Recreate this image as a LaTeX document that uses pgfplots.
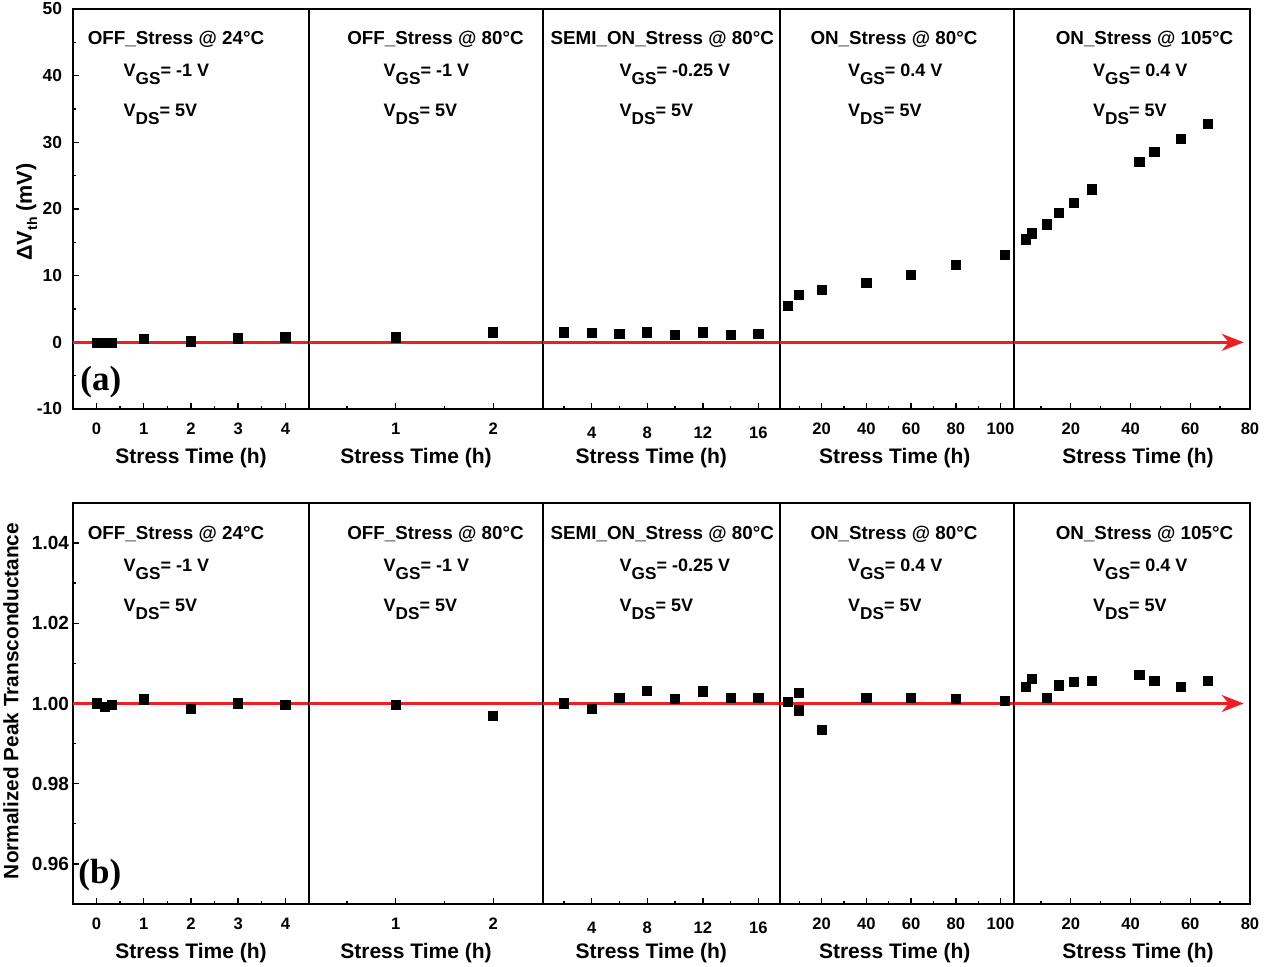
\documentclass[border=0pt]{standalone}
\usepackage{fontspec}
\setmainfont{Liberation Sans}
\newfontfamily\serifbf{Liberation Serif}
\usepackage{pgfplots}
\pgfplotsset{compat=1.18}
\usetikzlibrary{arrows.meta}
\definecolor{refred}{RGB}{238,30,36}

\newcommand\sub[1]{\raisebox{-0.75ex}{\fontsize{8.6}{9}\selectfont #1}}

\tikzset{zeroline/.style={refred, line width=1.25pt}}
\pgfplotsset{
  panel/.style={
    scale only axis,
    anchor=south west,
    axis line style={line width=0.8pt},
    every tick/.style={black, line width=0.7pt},
    tick align=inside,
    xtick pos=bottom, ytick pos=left,
    major tick length=3pt, minor tick length=1.6pt,
    xticklabel style={font=\fontsize{8.3}{9}\selectfont\bfseries, yshift=-3.4pt},
    ytick=\empty,
  },
  toprow/.style={panel, height=200pt, ymin=-10, ymax=50},
  botrow/.style={panel, height=200.5pt, ymin=0.95, ymax=1.05},
  pts/.style={only marks, mark=square*, mark size=2.3pt, black},
}

\begin{document}
\begin{tikzpicture}

% ---------------- (a) threshold-voltage shift ----------------
\begin{axis}[toprow, at={(36.5pt,279pt)}, width=118pt,
  xmin=-0.5, xmax=4.5, xtick={0,1,2,3,4}, xticklabels={0,1,2,3,4},
  minor xtick={0.5,1.5,2.5,3.5},
  ytick={-10,0,10,20,30,40,50}, yticklabels={-10,0,10,20,30,40,50},
  minor ytick={-5,5,15,25,35,45},
  yticklabel style={font=\fontsize{8.7}{10}\selectfont\bfseries, xshift=-2pt}]
  \draw[zeroline] (axis cs:-0.5,0) -- (axis cs:4.5,0);
  \addplot[pts] coordinates {(0,-0.05) (0.17,-0.05) (0.33,-0.05) (1,0.5) (2,0.15) (3,0.6) (4,0.75)};
\end{axis}

\begin{axis}[toprow, at={(154.5pt,279pt)}, width=117pt,
  xmin=0.11, xmax=2.51, xtick={1,2}, xticklabels={1,2}, minor xtick={0.5,1.5}]
  \draw[zeroline] (axis cs:0.11,0) -- (axis cs:2.51,0);
  \addplot[pts] coordinates {(1,0.75) (2,1.5)};
\end{axis}

\begin{axis}[toprow, at={(271.5pt,279pt)}, width=118.5pt,
  xmin=0.5, xmax=17.55, xtick={4,8,12,16}, xticklabels={4,8,12,16}, minor xtick={2,6,10,14},
  xticklabel style={yshift=-2pt}]
  \draw[zeroline] (axis cs:0.5,0) -- (axis cs:17.55,0);
  \addplot[pts] coordinates {(2,1.5) (4,1.4) (6,1.25) (8,1.5) (10,1.15) (12,1.5) (14,1.1) (16,1.25)};
\end{axis}

\begin{axis}[toprow, at={(390pt,279pt)}, width=117pt,
  xmin=1.4, xmax=106, xtick={20,40,60,80,100}, xticklabels={20,40,60,80,100},
  minor xtick={10,30,50,70,90}]
  \draw[zeroline] (axis cs:1.4,0) -- (axis cs:106,0);
  \addplot[pts] coordinates {(5,5.47) (10,7.12) (20,7.87) (40,8.92) (60,10.17) (80,11.56) (102,13.16)};
\end{axis}

\begin{axis}[toprow, at={(507pt,279pt)}, width=118pt,
  xmin=1, xmax=80, xtick={20,40,60,80}, xticklabels={20,40,60,80}, minor xtick={10,30,50,70}]
  \draw[zeroline, -{Stealth[length=11pt, width=8.5pt, inset=3.5pt]}] (axis cs:1,0) -- (axis cs:77.9,0);
  \addplot[pts] coordinates {(5,15.45) (7,16.35) (12,17.7) (16,19.4) (21,20.9) (27,22.93)
    (43,27.07) (48,28.6) (57,30.5) (66,32.8)};
\end{axis}

% ---------------- (b) normalized peak transconductance ----------------
\begin{axis}[botrow, at={(36.5pt,31.5pt)}, width=118pt,
  xmin=-0.5, xmax=4.5, xtick={0,1,2,3,4}, xticklabels={0,1,2,3,4},
  minor xtick={0.5,1.5,2.5,3.5},
  ytick={0.96,0.98,1.00,1.02,1.04}, yticklabels={0.96,0.98,1.00,1.02,1.04},
  minor ytick={0.97,0.99,1.01,1.03},
  yticklabel style={font=\fontsize{9.5}{11}\selectfont\bfseries, xshift=1.5pt}]
  \draw[zeroline] (axis cs:-0.5,1) -- (axis cs:4.5,1);
  \addplot[pts] coordinates {(0,1.0000) (0.17,0.9992) (0.33,0.9996) (1,1.0010) (2,0.9986) (3,1.0000) (4,0.9996)};
\end{axis}

\begin{axis}[botrow, at={(154.5pt,31.5pt)}, width=117pt,
  xmin=0.11, xmax=2.51, xtick={1,2}, xticklabels={1,2}, minor xtick={0.5,1.5}]
  \draw[zeroline] (axis cs:0.11,1) -- (axis cs:2.51,1);
  \addplot[pts] coordinates {(1,0.9997) (2,0.9969)};
\end{axis}

\begin{axis}[botrow, at={(271.5pt,31.5pt)}, width=118.5pt,
  xmin=0.5, xmax=17.55, xtick={4,8,12,16}, xticklabels={4,8,12,16}, minor xtick={2,6,10,14},
  xticklabel style={yshift=-2pt}]
  \draw[zeroline] (axis cs:0.5,1) -- (axis cs:17.55,1);
  \addplot[pts] coordinates {(2,1.0000) (4,0.9986) (6,1.0014) (8,1.0032) (10,1.0012) (12,1.0030) (14,1.0014) (16,1.0014)};
\end{axis}

\begin{axis}[botrow, at={(390pt,31.5pt)}, width=117pt,
  xmin=1.4, xmax=106, xtick={20,40,60,80,100}, xticklabels={20,40,60,80,100},
  minor xtick={10,30,50,70,90}]
  \draw[zeroline] (axis cs:1.4,1) -- (axis cs:106,1);
  \addplot[pts] coordinates {(5,1.0003) (10,1.0027) (10,0.9983) (20,0.9935) (40,1.0014) (60,1.0014) (80,1.0011) (102,1.0007)};
\end{axis}

\begin{axis}[botrow, at={(507pt,31.5pt)}, width=118pt,
  xmin=1, xmax=80, xtick={20,40,60,80}, xticklabels={20,40,60,80}, minor xtick={10,30,50,70}]
  \draw[zeroline, -{Stealth[length=11pt, width=8.5pt, inset=3.5pt]}] (axis cs:1,1) -- (axis cs:77.9,1);
  \addplot[pts] coordinates {(5,1.0042) (7,1.0062) (12,1.0014) (16,1.0045) (21,1.0054) (27,1.0057)
    (43,1.0072) (48,1.0057) (57,1.0042) (66,1.0057)};
\end{axis}

% ---------------- annotations (coordinates in 0.5pt units, y downwards) ----------------
\begin{scope}[x=0.5pt, y=-0.5pt, shift={(0pt,483.5pt)}, every node/.style={inner sep=0pt, font=\bfseries}]
  \foreach \dy in {0,495}{
    \begin{scope}[yshift=-\dy*0.5pt]
      \node[anchor=base, font=\bfseries\fontsize{9.4}{11}\selectfont] at (176,45)   {OFF\_Stress @ 24°C};
      \node[anchor=base, font=\bfseries\fontsize{9.4}{11}\selectfont] at (435.5,45) {OFF\_Stress @ 80°C};
      \node[anchor=base, font=\bfseries\fontsize{9.4}{11}\selectfont] at (662.3,45) {SEMI\_ON\_Stress @ 80°C};
      \node[anchor=base, font=\bfseries\fontsize{9.4}{11}\selectfont] at (894,45)   {ON\_Stress @ 80°C};
      \node[anchor=base, font=\bfseries\fontsize{9.4}{11}\selectfont] at (1144.5,45){ON\_Stress @ 105°C};
      \begin{scope}[every node/.append style={anchor=base west, font=\bfseries\fontsize{9}{10}\selectfont}]
        \node at (123.3,77)  {V\sub{GS}= -1 V};
        \node at (123.3,117) {V\sub{DS}= 5V};
        \node at (383.3,77)  {V\sub{GS}= -1 V};
        \node at (383.3,117) {V\sub{DS}= 5V};
        \node at (619.3,77)  {V\sub{GS}= -0.25 V};
        \node at (619.3,117) {V\sub{DS}= 5V};
        \node at (847.7,77)  {V\sub{GS}= 0.4 V};
        \node at (847.7,117) {V\sub{DS}= 5V};
        \node at (1092.7,77) {V\sub{GS}= 0.4 V};
        \node at (1092.7,117){V\sub{DS}= 5V};
      \end{scope}
    \end{scope}
  }
  % axis titles
  \foreach \cx in {191,416,651.3,894.7,1138}{
    \node[anchor=base, font=\bfseries\fontsize{10.5}{12}\selectfont] at (\cx,463.3) {Stress Time (h)};
    \node[anchor=base, font=\bfseries\fontsize{10.5}{12}\selectfont] at (\cx,958.3) {Stress Time (h)};
  }
  \node[rotate=90, font=\bfseries\fontsize{10.8}{12}\selectfont] at (26.7,212)
    {ΔV\raisebox{-0.45ex}{\fontsize{7}{8}\selectfont th} (mV)};
  \node[rotate=90, font=\bfseries\fontsize{10.4}{12}\selectfont] at (11,701)
    {Normalized Peak Transconductance};
  % panel letters
  \node[anchor=west, font=\serifbf\bfseries\fontsize{17.5}{20}\selectfont] at (80,382) {(a)};
  \node[anchor=west, font=\serifbf\bfseries\fontsize{17.5}{20}\selectfont] at (78,875) {(b)};
\end{scope}

\pgfresetboundingbox
\path[use as bounding box] (0,0) rectangle (640pt,483.5pt);
\end{tikzpicture}
\end{document}
